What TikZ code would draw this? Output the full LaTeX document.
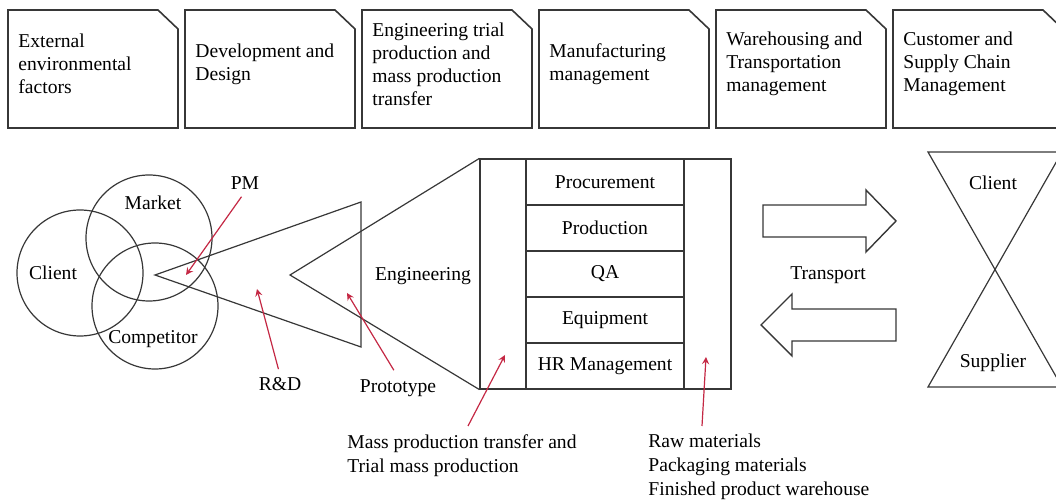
\documentclass[tikz,border=0pt]{standalone}
\usepackage{fontspec}
\setmainfont{Liberation Serif}
\usetikzlibrary{arrows,calc}

\definecolor{notered}{RGB}{196,40,68}
\definecolor{inkgray}{RGB}{55,55,55}

\begin{document}
\begin{tikzpicture}[
    x=0.5pt, y=-0.5pt,
    font=\fontsize{9.8}{11.5}\selectfont,
    line/.style={draw=inkgray, line width=0.6pt},
    header/.style={draw=inkgray, line width=0.8pt},
    headtext/.style={anchor=west, align=left, inner sep=0pt},
    cell/.style={draw=inkgray, line width=0.6pt, minimum width=79pt, minimum height=23pt, inner sep=0pt},
    column/.style={draw=inkgray, line width=0.6pt, minimum width=23pt, minimum height=115pt, inner sep=0pt},
    set/.style={circle, draw=inkgray, line width=0.6pt, minimum size=63pt, inner sep=0pt},
    note/.style={->, >=stealth, draw=notered, line width=0.6pt},
    notetext/.style={anchor=north west, align=left, inner sep=0pt, font=\fontsize{9.8}{12}\selectfont},
    bigarrow/.style={draw=inkgray, line width=0.7pt, fill=white},
    label/.style={inner sep=1pt}
]
\useasboundingbox (0,0) rectangle (1056,501);

% Stage headers (cut-corner cards)
\foreach \txt [count=\i from 0] in {
    {External\\environmental\\factors},
    {Development and\\Design},
    {Engineering trial\\production and\\mass production\\transfer},
    {Manufacturing\\management},
    {Warehousing and\\Transportation\\management},
    {Customer and\\Supply Chain\\Management}} {
  \pgfmathsetmacro\bx{8+177*\i}
  \draw[header] (\bx,10) -- (\bx+150,10) -- (\bx+170,29) -- (\bx+170,128) -- (\bx,128) -- cycle;
  \node[headtext] (head\i) at (\bx+10,64) {\txt};
}

% Client / Market / Competitor sets
\node[set] (clientset) at (80,273) {};
\node[set] (marketset) at (149,238) {};
\node[set] (compset) at (155,306) {};
\node[label] (clientlbl) at (53,273) {Client};
\node[label] (marketlbl) at (153,203) {Market};
\node[label] (complbl) at (153,339) {Competitor};

% Production block
\node[column] (incol) at (503,274) {};
\node[column, minimum width=23.5pt] (outcol) at (707.5,274) {};
\foreach \name [count=\r] in {Procurement,Production,QA,Equipment,HR Management}
  \node[cell] (row\r) at (605,136+46*\r) {\name};

% R&D and Engineering funnels
\coordinate (rdapex) at (155,275);
\coordinate (engapex) at (290,275);
\draw[line] (361,202) -- (rdapex) -- (361,347) -- cycle;
\draw[line] (incol.north west) -- (engapex) -- (incol.south west);
\node[label] (eng) at (423,276) {Engineering};

% Transport
\draw[bigarrow] (763,205) -- (866,205) -- (866,190) -- (896,221) -- (866,252) -- (866,237) -- (763,237) -- cycle;
\draw[bigarrow] (896,309) -- (792,309) -- (792,294) -- (761,325) -- (792,356) -- (792,341) -- (896,341) -- cycle;
\node[label] (transport) at (828,275) {Transport};

% Client / Supplier hourglass
\draw[line] (928,152) -- (1062,152) -- (928,387) -- (1062,387) -- cycle;
\node[label] (client) at (993,183) {Client};
\node[label] (supplier) at (993,363) {Supplier};

% Red callouts
\node[label] (pm) at (245,183) {PM};
\node[label] (rd) at (280,384) {R\&D};
\node[label] (proto) at (398,388) {Prototype};
\node[notetext] (mass) at (347,434) {Mass production transfer and\\Trial mass production};
\node[notetext] (raw) at (648,434) {Raw materials\\Packaging materials\\Finished product warehouse};

\coordinate (pmtip) at (186,275);
\coordinate (rdtip) at (257,289);
\coordinate (prototip) at (347,293);
\coordinate (masstip) at (505,355);
\coordinate (rawtip) at (706,357);

\draw[note, shorten <=3pt] (pm.south) -- (pmtip);
\draw[note, shorten <=3pt] (rd.north) -- (rdtip);
\draw[note, shorten <=4pt] (proto.north) -- (prototip);
\draw[note] ([xshift=60.5pt, yshift=4pt]mass.north west) -- (masstip);
\draw[note] ([xshift=27pt, yshift=4pt]raw.north west) -- (rawtip);

\end{tikzpicture}
\end{document}
